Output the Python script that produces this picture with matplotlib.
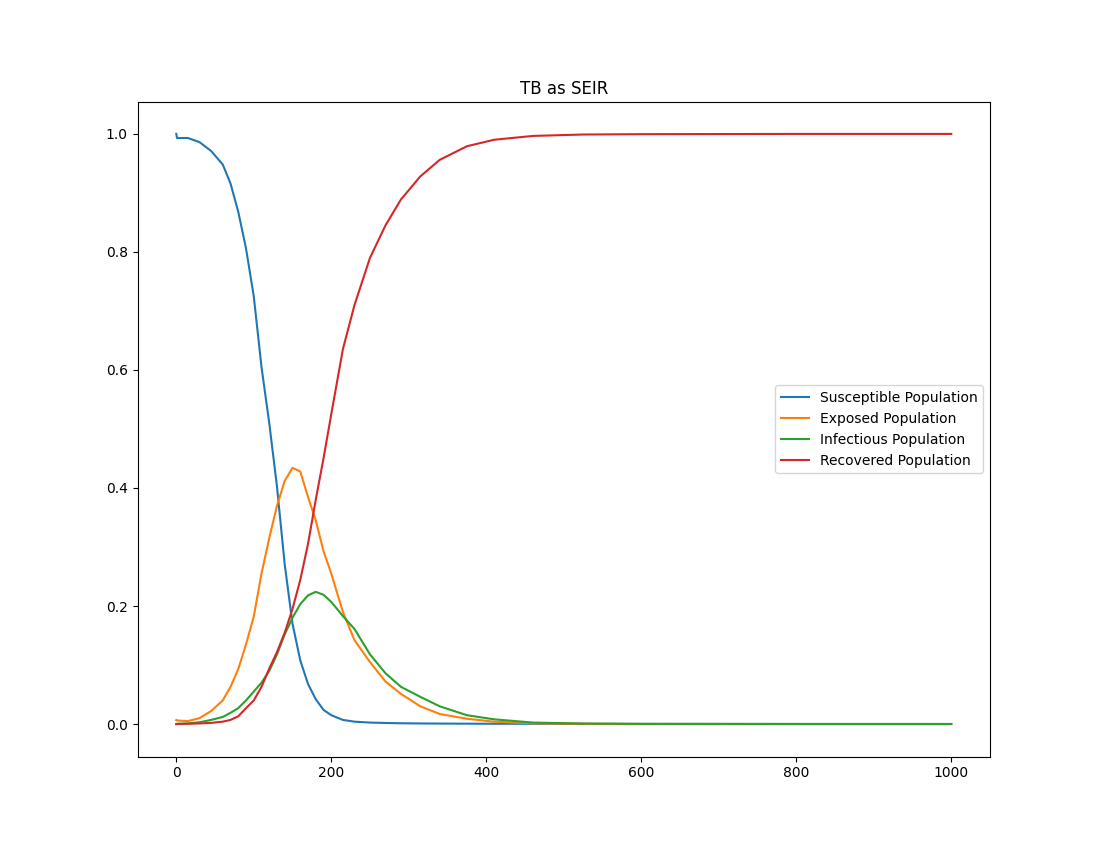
# TB modelled as SEIR - population fractions over time
import matplotlib
matplotlib.use("Agg")
import matplotlib.pyplot as plt

# time points (days)
days = [0, 1, 15, 30, 45, 60, 70, 80, 90, 100, 110, 120, 130, 140, 150, 160,
        170, 180, 190, 200, 215, 230, 250, 270, 290, 315, 340, 375, 410, 460,
        525, 600, 800, 1000]

susceptible = [1.0, 0.993, 0.993, 0.986, 0.971, 0.948, 0.916, 0.868, 0.806,
               0.725, 0.605, 0.51, 0.402, 0.27, 0.17, 0.108, 0.068, 0.042,
               0.024, 0.015, 0.007, 0.004, 0.0025, 0.0018, 0.0013, 0.001,
               0.0008, 0.0006, 0.0005, 0.0004, 0.0003, 0.0002, 0.0001, 0.0001]

exposed = [0.0068, 0.006, 0.005, 0.010, 0.022, 0.040, 0.063, 0.093, 0.135,
           0.182, 0.255, 0.315, 0.37, 0.412, 0.434, 0.428, 0.385, 0.345,
           0.293, 0.255, 0.19, 0.142, 0.105, 0.072, 0.051, 0.03, 0.017,
           0.009, 0.004, 0.0012, 0.0004, 0.0001, 0.0, 0.0]

infectious = [0.0, 0.0005, 0.001, 0.003, 0.007, 0.012, 0.019, 0.027, 0.04,
              0.055, 0.07, 0.09, 0.118, 0.152, 0.18, 0.203, 0.218, 0.224,
              0.219, 0.207, 0.183, 0.161, 0.118, 0.086, 0.063, 0.046, 0.030,
              0.015, 0.008, 0.0025, 0.0008, 0.0003, 0.0001, 0.0]

recovered = [0.0, 0.0, 0.0005, 0.001, 0.002, 0.004, 0.007, 0.013, 0.027,
             0.04, 0.063, 0.094, 0.122, 0.155, 0.195, 0.244, 0.305, 0.38,
             0.45, 0.525, 0.635, 0.71, 0.79, 0.845, 0.889, 0.928, 0.956,
             0.979, 0.990, 0.9965, 0.9989, 0.9995, 0.9999, 0.9999]

fig = plt.figure(figsize=(11, 8.5), dpi=100)
plt.plot(days, susceptible, label="Susceptible Population")
plt.plot(days, exposed, label="Exposed Population")
plt.plot(days, infectious, label="Infectious Population")
plt.plot(days, recovered, label="Recovered Population")
plt.ylim(-0.055, 1.054)
plt.title("TB as SEIR")
plt.legend(loc="center right")
plt.savefig("out.png", dpi=100)
